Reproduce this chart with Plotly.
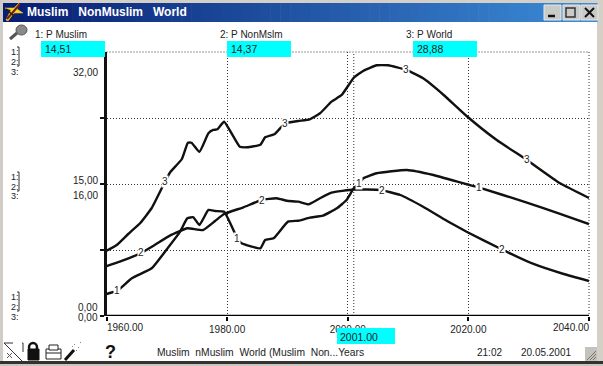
import numpy as np
import plotly.graph_objects as go

W, H = 603, 366
L, R, T, B = 106.5, 589.0, 52.0, 316.0

title = "Muslim  NonMuslim  World"
names = ["1: P Muslim", "2: P NonMslm", "3: P World"]
cursor_year = 2001
cursor_vals = ["14,51", "14,37", "28,88"]
x_ticks = [1960, 1980, 2000, 2020, 2040]
x_labels = ["1960.00", "1980.00", "2000.00", "2020.00", "2040.00"]
y_ticks_12 = [0, 7.5, 15, 22.5, 30]

muslim_year = [1960, 1961.8, 1964.2, 1967.5, 1969.7, 1972.2, 1973.4, 1974.4, 1975.4, 1976.9, 1978, 1979.5,
               1981.7, 1982.4, 1985.5, 1986.3, 1987.7, 1990.1, 1991.8, 1993.7, 1995.9, 1998.2, 1999.8,
               2001, 2001.8, 2002.6, 2004.8, 2009.8, 2014.2, 2019.7, 2021.7, 2029.7, 2035.2, 2040]
muslim_val = [2.5, 2.88, 4.28, 5.42, 7.31, 9.58, 11.1, 11.22, 10.34, 12.05, 11.93, 11.85,
              8.83, 8.26, 7.69, 8.64, 8.83, 10.72, 10.83, 11.17, 11.4, 12.24, 13.18,
              14.51, 15.0, 15.65, 16.22, 16.59, 16.02, 14.97, 14.62, 12.88, 11.6, 10.45]

non_year = [1960, 1962.2, 1965.8, 1968, 1970.5, 1973.4, 1976, 1978, 1979.5, 1982.7, 1985.7, 1988.2, 1989.9,
            1991.8, 1993.5, 1995.4, 1997.3, 2001, 2005.4, 2008.7, 2012.5, 2016.4, 2019.7, 2025.5, 2030.8,
            2035.8, 2040]
non_val = [5.68, 6.17, 7.19, 8.07, 9.13, 9.97, 9.77, 10.8, 11.59, 12.35, 13.18, 13.38, 13.1,
           12.99, 12.69, 13.38, 14.01, 14.37, 14.32, 13.75, 12.42, 10.83, 9.58, 7.58, 5.91,
           4.77, 3.98]

world_year = [1960, 1961.7, 1963.6, 1965.6, 1967.5, 1969.7, 1970.5, 1972.5, 1973.5, 1974.1, 1975.4, 1976.9,
              1977.7, 1978.4, 1979.5, 1982.1, 1983.3, 1985.5, 1986.3, 1987.9, 1989.6, 1991.8, 1993.7,
              1995.4, 1997.3, 1999, 2001, 2002.6, 2004.8, 2006.7, 2009.7, 2012.5, 2015.9, 2019.7,
              2024.7, 2029.7, 2035.2, 2040]
world_val = [7.91, 8.61, 9.94, 11.27, 13.09, 16.28, 17.37, 19.03, 21.0, 21.0, 19.9, 22.15,
             22.55, 22.63, 23.55, 20.52, 20.45, 20.76, 21.66, 22.06, 23.36, 23.64, 23.84,
             24.57, 25.98, 26.79, 28.88, 29.73, 30.39, 30.39, 29.82, 28.81, 26.79, 24.24,
             21.33, 18.91, 16.08, 14.3]

label_years = {"1": [1961.8, 1981.7, 2001.8, 2021.7],
               "2": [1965.8, 1985.7, 2005.6, 2025.5],
               "3": [1969.7, 1989.6, 2009.7, 2029.7]}


def px(x):
    return x / W


def py(y):
    return 1 - y / H


shapes, notes = [], []


def rect(x0, y0, x1, y1, fill=None, line=None, lw=1, layer="above"):
    shapes.append(dict(type="rect", xref="paper", yref="paper", x0=px(x0), x1=px(x1), y0=py(y0), y1=py(y1),
                       fillcolor=fill or "rgba(0,0,0,0)",
                       line=dict(color=line or "rgba(0,0,0,0)", width=lw if line else 0), layer=layer))


def seg(x0, y0, x1, y1, color="#111", lw=1, dash="solid", layer="above"):
    shapes.append(dict(type="line", xref="paper", yref="paper", x0=px(x0), x1=px(x1), y0=py(y0), y1=py(y1),
                       line=dict(color=color, width=lw, dash=dash), layer=layer))


def poly(points, fill, line=None):
    d = "M" + " L".join(f"{px(a):.5f},{py(b):.5f}" for a, b in points) + " Z"
    shapes.append(dict(type="path", xref="paper", yref="paper", path=d, fillcolor=fill,
                       line=dict(color=line or fill, width=0.5), layer="above"))


def circle(x0, y0, x1, y1, fill=None, line=None, lw=1):
    shapes.append(dict(type="circle", xref="paper", yref="paper", x0=px(x0), x1=px(x1), y0=py(y0), y1=py(y1),
                       fillcolor=fill or "rgba(0,0,0,0)", line=dict(color=line or "rgba(0,0,0,0)", width=lw),
                       layer="above"))


def text(x, y, s, size=10, color="#222", anchor="left", bold=False, family="Liberation Sans"):
    notes.append(dict(xref="paper", yref="paper", x=px(x), y=py(y), text=f"<b>{s}</b>" if bold else s,
                      showarrow=False, xanchor=anchor, yanchor="middle",
                      font=dict(size=size, color=color, family=family), borderpad=0))


# dotted frame at the top and right of the plot
DOT = "1px,2px"
seg(L, T, R, T, "#333", 1, DOT, layer="below")
seg(R, T, R, B, "#333", 1, DOT, layer="below")

# window frame
rect(0, 0, 603, 3, "#d4d0c8", layer="below")
rect(0, 0, 3, 366, "#cfcdc6", layer="below")
rect(597, 0, 603, 366, "#d4d0c8", layer="below")
rect(0, 361, 603, 364, "#33322f", layer="below")
rect(0, 364, 603, 366, "#c8c6c0", layer="below")

# title bar gradient
n = 60
c0, c1 = np.array([8, 30, 115]), np.array([60, 140, 215])
for i in range(n):
    c = (c0 + (c1 - c0) * i / (n - 1)).astype(int)
    rect(3 + i * 594 / n, 3, 3 + (i + 1) * 594 / n + 0.6, 22, f"rgb({c[0]},{c[1]},{c[2]})")
text(26, 12.5, title.replace("  ", "&nbsp;&nbsp;&nbsp;"), size=12, color="white", bold=True)

# title icon
poly([(6, 20), (11, 10), (5, 8), (14, 8), (19, 3), (17, 9), (23, 13), (14, 13), (8, 21)], "#f2d51c")
seg(7, 19, 20, 4, "#7a1a1a", 2)
seg(6, 9, 15, 17, "#222", 1.5)

# window buttons
for bx in [544, 563, 581]:
    rect(bx, 5, bx + 17, 20, "#c9cbc8", "#e8e8e4", 1)
seg(548, 16, 555, 16, "#111", 2.5)
rect(566, 8, 575, 17, None, "#333", 1.5)
seg(585, 8, 594, 17, "#111", 2)
seg(594, 8, 585, 17, "#111", 2)

# pin icon, top left
circle(16, 25, 27, 35, "#8a8a8a", "#555", 1)
seg(17, 33, 10, 39, "#555", 3)

# series labels and cursor readouts
for name, x0, box, val in zip(names, [34, 219, 405], [41, 227, 413], cursor_vals):
    text(x0, 34.5, name, size=10)
    rect(box, 41, box + 64, 57, "#00ffff")
    text(box + 3, 49, val, size=10.5)

# bottom cursor box
rect(337, 328, 395, 344, "#00ffff")
text(339, 337, f"{cursor_year}.00", size=10.5)

# left scale key
for ys in [(52, 62, 72), (177, 187, 196), (297, 307, 317)]:
    for lab, y in zip("123", ys):
        text(10, y, lab + ":", size=9)
    seg(19, ys[0] - 5, 19, ys[1] + 4, "#333", 1)
    seg(17, ys[0] - 5, 19, ys[0] - 5, "#333", 1)
    seg(17, ys[1] + 4, 19, ys[1] + 4, "#333", 1)

text(99, 72, "32,00", anchor="right")
text(99, 180, "15,00", anchor="right")
text(99, 195, "16,00", anchor="right")
text(99, 307, "0,00", anchor="right")
text(99, 317, "0,00", anchor="right")

# end tick labels sit inside the plot's width
text(L - 1, 327, x_labels[0], anchor="left")
text(R + 2, 327, x_labels[-1], anchor="right")

# toolbar icons
seg(4, 343, 23, 362, "#333", 1)
seg(4, 343, 23, 343, "#333", 1, "dash")
seg(23, 343, 23, 362, "#333", 1, "dash")
seg(7, 353, 12, 358, "#555", 1)
seg(12, 353, 7, 358, "#555", 1)
circle(29, 343, 37, 352, None, "#111", 2.5)
rect(28, 349, 39, 360, "#111", "#111", 1)
rect(46, 349, 61, 359, "white", "#222", 1)
rect(49, 345, 58, 350, "white", "#222", 1)
seg(46, 353, 61, 353, "#222", 1)
seg(65, 360, 74, 350, "#111", 3)
for a, b in [(74, 344), (78, 347), (80, 342), (76, 350), (72, 346)]:
    rect(a, b, a + 1, b + 1, "#888")
text(110, 352, "?", size=18, color="#111", anchor="center", bold=True)

# status line
text(156, 352, "Muslim&nbsp;&nbsp;nMuslim&nbsp;&nbsp;World (Muslim&nbsp;&nbsp;Non...Years", size=10.3)
text(476, 352, "21:02", size=10)
text(520, 352, "20.05.2001", size=10)

# resize grip
rect(585, 347, 597, 361, "#c4c2bc")
for k in range(3):
    seg(587 + k * 3, 360, 596, 351 + k * 3, "#77756f", 1)

dot = dict(showgrid=True, griddash=DOT, gridcolor="#333", gridwidth=1)
curve = dict(color="#111", width=2.4, shape="spline", smoothing=0.4)
fig = go.Figure()
fig.add_trace(go.Scatter(x=muslim_year, y=muslim_val, mode="lines", name=names[0],
                         line=curve, yaxis="y", cliponaxis=False))
fig.add_trace(go.Scatter(x=non_year, y=non_val, mode="lines", name=names[1],
                         line=curve, yaxis="y", cliponaxis=False))
fig.add_trace(go.Scatter(x=world_year, y=world_val, mode="lines", name=names[2],
                         line=curve, yaxis="y2", cliponaxis=False))
# bottom axis line
fig.add_trace(go.Scatter(x=[x_ticks[0], x_ticks[-1]], y=[y_ticks_12[0], y_ticks_12[0]], mode="lines",
                         line=dict(color="#000000", width=2.5), yaxis="y", cliponaxis=False,
                         showlegend=False))

# numbered line labels
series = {"1": (muslim_year, muslim_val, "y"), "2": (non_year, non_val, "y"), "3": (world_year, world_val, "y2")}
for k, yrs in label_years.items():
    xs, vs, yref = series[k]
    for yr in yrs:
        notes.append(dict(x=yr, y=float(np.interp(yr, xs, vs)), xref="x", yref=yref, text=k, showarrow=False,
                          bgcolor="white", font=dict(size=10, color="#222", family="Liberation Sans"), borderpad=0))

# cursor line
shapes.append(dict(type="line", xref="x", yref="paper", x0=cursor_year, x1=cursor_year, y0=py(B), y1=py(T),
                   line=dict(color="#333", width=1, dash=DOT), layer="below"))

fig.update_layout(
    width=W, height=H, margin=dict(l=0, r=0, t=0, b=0, autoexpand=False), showlegend=False,
    paper_bgcolor="white", plot_bgcolor="white", shapes=shapes, annotations=notes,
    xaxis=dict(domain=[px(L), px(R)], range=[1960, 2040], tickvals=x_ticks, ticktext=["", *x_labels[1:-1], ""],
               ticks="outside", ticklen=4, tickwidth=2, tickcolor="#000000", showline=False, zeroline=False,
               tickfont=dict(size=10, color="#222", family="Liberation Sans"),
               anchor="y", automargin=False, **dot),
    yaxis=dict(domain=[py(B), py(T)], range=[0, 30], tickvals=y_ticks_12, showticklabels=False,
               ticks="outside", ticklen=4, tickwidth=2, tickcolor="#111", showline=True, linecolor="#111",
               linewidth=2.5, zeroline=False, automargin=False, **dot),
    yaxis2=dict(domain=[py(B), py(T)], range=[0, 32], overlaying="y", side="left", showgrid=False,
                showticklabels=False, ticks="", zeroline=False, showline=False, automargin=False),
)
fig.write_html("out.html", config=dict(staticPlot=True),
               post_script="document.body.style.margin='0';document.documentElement.style.overflow='hidden';")
